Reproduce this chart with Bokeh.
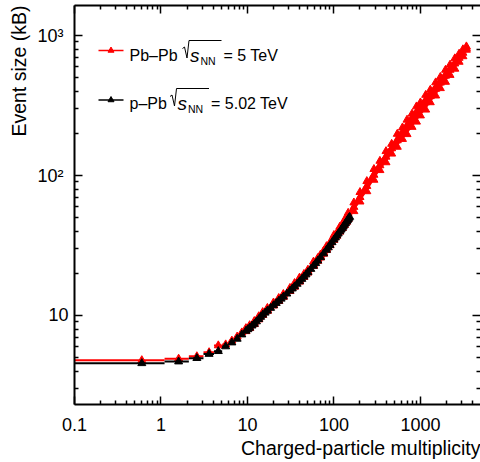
import math

from bokeh.core.properties import value
from bokeh.embed import file_html
from bokeh.models import (ColumnDataSource, FixedTicker, LogAxis, Range1d,
                          Title)
from bokeh.plotting import figure
from bokeh.resources import INLINE

# ---------------------------------------------------------------------------
# Data: mean raw event size (kB) versus charged-particle multiplicity
# ---------------------------------------------------------------------------
bin_width = 1.0

# p-Pb, sqrt(sNN) = 5.02 TeV: unit-width bins at low multiplicity
ppb_low_mult = [0.6, 1.6, 2.6, 3.6, 4.6, 5.6, 6.6, 7.6, 8.6]
ppb_low_size = [4.55, 4.68, 4.95, 5.30, 5.55, 6.00, 6.40, 6.80, 7.30]

# p-Pb: higher multiplicity
ppb_mult = [9.6, 10.1, 10.6, 11.3, 12, 12.7, 13.5, 14.2, 15, 16, 17, 18.5, 20,
            21.5, 23, 24.5, 26, 28.5, 31, 33, 35, 37.5, 40, 42.5, 45, 47.5, 50,
            54, 58, 61.5, 65, 70, 76, 82, 86, 90, 95, 100, 104, 108, 112, 117,
            121, 125, 128, 132, 136, 140, 143, 146, 149, 152]
ppb_size = [7.75, 7.95, 8.15, 8.45, 8.7, 9.05, 9.4, 9.75, 10.1, 10.45, 10.8,
            11.3, 11.8, 12.25, 12.7, 13.15, 13.6, 14.3, 15.0, 15.55, 16.1,
            16.8, 17.5, 18.2, 18.9, 19.6, 20.3, 21.45, 22.6, 23.6, 24.6, 26.0,
            27.7, 29.4, 30.6, 31.8, 33.3, 34.8, 36.0, 37.2, 38.4, 39.8, 41.0,
            42.2, 43.1, 44.4, 45.6, 46.8, 47.8, 48.8, 49.7, 50.5]

# Pb-Pb, sqrt(sNN) = 5 TeV: unit-width bins at low multiplicity
pbpb_low_mult = [0.6, 1.6, 2.6, 3.6, 4.6, 5.6, 6.6, 7.6, 8.6]
pbpb_low_size = [4.78, 4.90, 5.10, 5.45, 6.10, 6.20, 6.60, 7.05, 7.55]

# Pb-Pb: higher multiplicity -- band centre and the spread of the bins
pbpb_mult = [9.6, 10.6, 12, 13.5, 15, 17, 20, 23, 26, 31, 35, 40, 45, 50, 58,
             65, 70, 76, 82, 90, 100, 108, 117, 125, 132, 140, 146, 170, 200,
             240, 290, 340, 400, 465, 540, 620, 700, 800, 900, 1000, 1150,
             1300, 1500, 1700, 1950, 2200, 2500, 2800, 3100, 3400]
pbpb_size = [7.9, 8.3, 8.9, 9.6, 10.3, 11.0, 12.0, 12.95, 13.9, 15.3, 16.4,
             17.85, 19.3, 20.7, 23.05, 25.1, 26.5, 28.25, 30.0, 32.45, 35.5,
             37.95, 40.6, 43.05, 45.3, 47.7, 51, 59.5, 70, 84, 101, 118, 136,
             156, 178, 200, 222, 248, 274, 298, 333, 368, 415, 460, 515, 568,
             630, 692, 752, 812]
pbpb_size_lo = [7.7, 8.1, 8.65, 9.35, 10.05, 10.75, 11.75, 12.65, 13.55, 14.9,
                16.0, 17.4, 18.8, 20.2, 22.5, 24.5, 25.9, 27.55, 29.25, 31.65,
                34.6, 37.0, 39.6, 42.0, 44.2, 46.6, 48.6, 55.5, 65, 77, 93,
                109, 124, 143, 160, 182, 197, 222, 242, 268, 295, 333, 372,
                420, 466, 522, 578, 648, 710, 790]
pbpb_size_hi = [8.1, 8.5, 9.1, 9.85, 10.55, 11.3, 12.35, 13.3, 14.2, 15.7,
                17.0, 18.6, 19.75, 21.2, 24.2, 25.7, 27.2, 28.95, 31.2, 33.2,
                37.5, 38.9, 43.0, 44.1, 47.9, 50.5, 54, 64, 76, 91, 111,
                127, 149, 168, 198, 220, 250, 276, 311, 332, 376, 409, 462,
                505, 568, 618, 686, 740, 796, 835]

# Axis ranges and ticks
x_lim = (0.1, 4950.0)
y_lim = (2.31, 1640.0)
x_major = [0.1, 1, 10, 100, 1000]
x_labels = {0.1: "0.1", 1: "1", 10: "10", 100: "100", 1000: "1000"}
y_major = [10, 100, 1000]
y_labels = {10: "10", 100: "10\u00b2\u00a0", 1000: "10\u00b3\u00a0"}

legend_labels = ["Pb\u2013Pb", "p\u2013Pb"]
legend_energy = ["= 5 TeV", "= 5.02 TeV"]
legend_colors = ["red", "black"]

FONT = "Liberation Sans"

# ---------------------------------------------------------------------------
# Figure
# ---------------------------------------------------------------------------
p = figure(width=480, height=462, x_axis_type="log", y_axis_type="log",
           x_range=Range1d(*x_lim), y_range=Range1d(*y_lim),
           output_backend="svg", toolbar_location=None,
           min_border_left=74, min_border_right=0, min_border_top=5,
           min_border_bottom=58)
p.background_fill_color = "white"
p.border_fill_color = "white"
p.outline_line_color = None
p.grid.visible = False


def minor_ticks(lo, hi):
    out = []
    for k in range(-2, 5):
        for m in range(2, 10):
            t = m * 10.0 ** k
            if lo <= t <= hi:
                out.append(t)
    return out


def make_ticker(major, lim):
    return FixedTicker(ticks=major, minor_ticks=minor_ticks(*lim))


def style_axis(ax):
    ax.axis_line_color = "black"
    ax.axis_line_width = 2
    ax.major_tick_in = 8
    ax.major_tick_out = 0
    ax.minor_tick_in = 4
    ax.minor_tick_out = 0
    ax.major_tick_line_width = 1.5
    ax.minor_tick_line_width = 1.5
    ax.major_tick_line_color = "black"
    ax.minor_tick_line_color = "black"
    ax.major_label_text_font = FONT
    ax.major_label_text_font_size = "18px"
    ax.major_label_text_color = "black"


xaxis = p.below[0]
yaxis = p.left[0]
xaxis.ticker = make_ticker(x_major, x_lim)
yaxis.ticker = make_ticker(y_major, y_lim)
style_axis(xaxis)
style_axis(yaxis)
xaxis.major_label_overrides = x_labels
yaxis.major_label_overrides = y_labels
xaxis.major_label_standoff = 13
yaxis.major_label_standoff = 6

# tick marks on the upper and right edges of the frame, without labels
top_axis = LogAxis(ticker=make_ticker(x_major, x_lim))
right_axis = LogAxis(ticker=make_ticker(y_major, y_lim))
for ax, major in ((top_axis, x_major), (right_axis, y_major)):
    style_axis(ax)
    ax.major_label_overrides = {t: " " for t in major}
    ax.major_label_text_font_size = "1px"
    ax.major_label_text_alpha = 0
    ax.major_label_standoff = 0
right_axis.axis_line_color = None
p.add_layout(top_axis, "above")
p.add_layout(right_axis, "right")

p.add_layout(Title(text="Charged-particle multiplicity", align="right",
                   text_font=FONT, text_font_size="19.5px",
                   text_font_style="normal", text_color="black",
                   standoff=3), "below")
p.add_layout(Title(text="Event size (kB)", align="right",
                   text_font=FONT, text_font_size="19.5px",
                   text_font_style="normal", text_color="black",
                   standoff=10), "left")

# ---------------------------------------------------------------------------
# Pb-Pb (red)
# ---------------------------------------------------------------------------
pbpb_low = ColumnDataSource(dict(
    x=pbpb_low_mult, y=pbpb_low_size,
    x0=[max(x_lim[0], m - bin_width / 2) for m in pbpb_low_mult],
    x1=[m + bin_width / 2 for m in pbpb_low_mult]))
pbpb = ColumnDataSource(dict(x=pbpb_mult, y=pbpb_size,
                             lo=pbpb_size_lo, hi=pbpb_size_hi))

p.segment(x0="x0", x1="x1", y0="y", y1="y", source=pbpb_low,
          line_color="red", line_width=2)
p.varea(x="x", y1="lo", y2="hi", source=pbpb, fill_color="red")
for col in ("lo", "hi", "y"):
    p.scatter(x="x", y=col, source=pbpb, marker="triangle", size=8,
              fill_color="red", line_color="red")
p.scatter(x="x", y="y", source=pbpb_low, marker="triangle", size=8,
          fill_color="red", line_color="red")

# ---------------------------------------------------------------------------
# p-Pb (black)
# ---------------------------------------------------------------------------
ppb_low = ColumnDataSource(dict(
    x=ppb_low_mult, y=ppb_low_size,
    x0=[max(x_lim[0], m - bin_width / 2) for m in ppb_low_mult],
    x1=[m + bin_width / 2 for m in ppb_low_mult]))
ppb = ColumnDataSource(dict(x=ppb_mult, y=ppb_size))

p.segment(x0="x0", x1="x1", y0="y", y1="y", source=ppb_low,
          line_color="black", line_width=2)
p.line(x="x", y="y", source=ppb, line_color="black", line_width=2)
p.scatter(x="x", y="y", source=ppb, marker="triangle", size=8,
          fill_color="black", line_color="black")
p.scatter(x="x", y="y", source=ppb_low, marker="triangle", size=8,
          fill_color="black", line_color="black")

# ---------------------------------------------------------------------------
# Legend, laid out in canvas pixels and mapped onto the log axes
# ---------------------------------------------------------------------------
FRAME_L, FRAME_R, FRAME_T, FRAME_B = 74.0, 480.0, 5.0, 404.0


def px_x(sx):
    a, b = math.log10(x_lim[0]), math.log10(x_lim[1])
    return 10 ** (a + (sx - FRAME_L) / (FRAME_R - FRAME_L) * (b - a))


def px_y(sy):
    a, b = math.log10(y_lim[0]), math.log10(y_lim[1])
    return 10 ** (a + (FRAME_B - sy) / (FRAME_B - FRAME_T) * (b - a))


entry_line_y = [50.0, 99.5]
entry_base_y = [55.0, 103.0]
entry_sqrt_x = [183.0, 170.5]
text_x = 129.0

for i in range(2):
    ly, by, s0 = entry_line_y[i], entry_base_y[i], entry_sqrt_x[i]
    c = legend_colors[i]
    p.line(x=[px_x(98), px_x(123)], y=[px_y(ly), px_y(ly)],
           line_color=c, line_width=1.5)
    p.scatter(x=[px_x(110.5)], y=[px_y(ly)], marker="triangle", size=6,
              fill_color=c, line_color=c)
    p.text(x=[px_x(text_x)], y=[px_y(by)], text=[legend_labels[i]],
           text_font=value(FONT), text_font_size=value("16px"),
           text_baseline="alphabetic", text_align="left", text_color="black")
    # radical sign with its bar over s_NN
    rx = [s0 - 1.0, s0 + 1.0, s0 + 3.5, s0 + 5.5, s0 + 38.0]
    ry = [by - 7.0, by - 8.5, by + 2.5, by - 15.0, by - 15.0]
    p.line(x=[px_x(v) for v in rx], y=[px_y(v) for v in ry],
           line_color="black", line_width=1)
    p.text(x=[px_x(s0 + 6.5)], y=[px_y(by)], text=["s"],
           text_font=value(FONT), text_font_size=value("19px"),
           text_font_style="italic", text_baseline="alphabetic",
           text_align="left", text_color="black")
    p.text(x=[px_x(s0 + 17.0)], y=[px_y(by + 5)], text=["NN"],
           text_font=value(FONT), text_font_size=value("10.5px"),
           text_baseline="alphabetic", text_align="left", text_color="black")
    p.text(x=[px_x(s0 + 40.0)], y=[px_y(by)], text=[legend_energy[i]],
           text_font=value(FONT), text_font_size=value("16px"),
           text_baseline="alphabetic", text_align="left", text_color="black")

open("out.html", "w").write(file_html(p, INLINE))
